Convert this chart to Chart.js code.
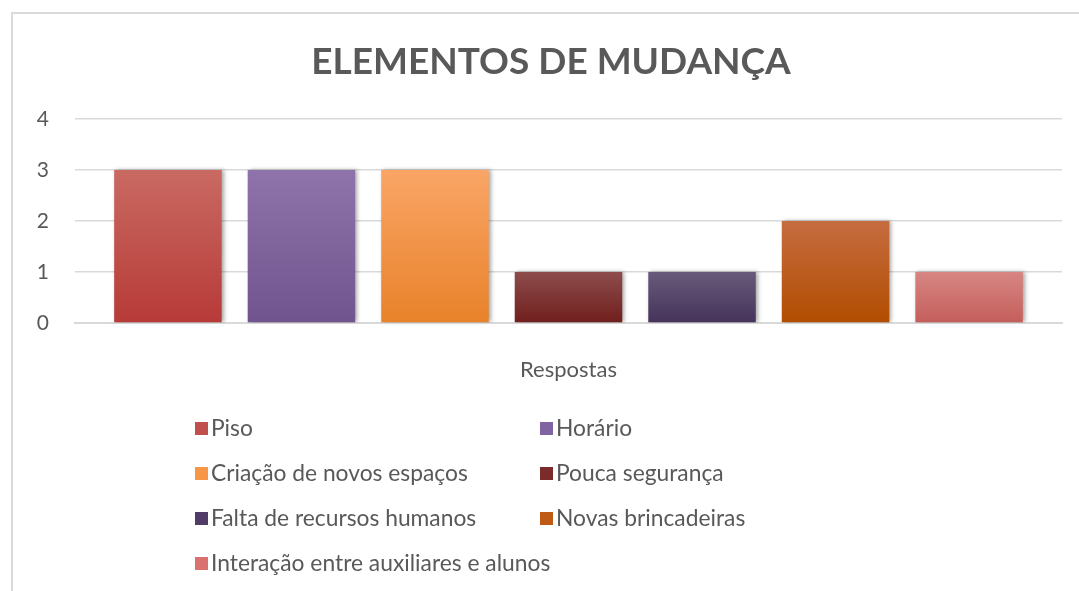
<!DOCTYPE html>
<html>
<head>
<meta charset="utf-8">
<script src="https://cdn.jsdelivr.net/npm/chart.js@4/dist/chart.umd.min.js"></script>
<style>
  html, body { margin: 0; padding: 0; background: #fff; }
  #wrap { position: relative; width: 1079px; height: 591px; overflow: hidden; }
  #frame { position: absolute; left: 11px; top: 12px; width: 1100px; height: 620px;
           border-top: 2px solid #d9d9d9; border-left: 2px solid #d9d9d9; }
  canvas { position: absolute; left: 0; top: 0; }
</style>
</head>
<body>
<div id="wrap">
  <div id="frame"></div>
  <canvas id="chart" width="1079" height="591"></canvas>
</div>
<script>
// data
const title = "ELEMENTOS DE MUDANÇA";
const categories = ["Respostas"];
const seriesNames = [
  "Piso", "Horário", "Criação de novos espaços", "Pouca segurança",
  "Falta de recursos humanos", "Novas brincadeiras", "Interação entre auxiliares e alunos"
];
const seriesValues = [3, 3, 3, 1, 1, 2, 1];
const yTicks = [0, 1, 2, 3, 4];

// top / bottom colour of each bar gradient
const topColors = ["#c96a62", "#8e74aa", "#faa566", "#8c4c4b", "#685a7a", "#c56c40", "#d78683"];
const bottomColors = ["#b73a37", "#70548e", "#e8822a", "#701f1d", "#45335b", "#b24d00", "#c45e5b"];
const legendColors = ["#c0504d", "#8064a2", "#f79646", "#7b2c2a", "#4f3d67", "#bf5a14", "#d9716e"];

const textColor = "#595959";
const fontFamily = "Lato, 'Open Sans', sans-serif";

function barGradient(i) {
  return function(context) {
    const chart = context.chart;
    const y = chart.scales.y;
    if (!y || !chart.chartArea) return legendColors[i];
    const top = y.getPixelForValue(seriesValues[i]);
    const bottom = y.getPixelForValue(0);
    const g = chart.ctx.createLinearGradient(0, top, 0, bottom);
    g.addColorStop(0, topColors[i]);
    g.addColorStop(1, bottomColors[i]);
    return g;
  };
}

const datasets = seriesNames.map((name, i) => ({
  label: name,
  data: [seriesValues[i]],
  backgroundColor: barGradient(i),
  borderWidth: 0,
  barPercentage: 0.805,
  categoryPercentage: 0.947
}));

// soft shadow on the bars
const barShadow = {
  id: "barShadow",
  beforeDatasetsDraw(chart) {
    const ctx = chart.ctx;
    ctx.save();
    ctx.shadowColor = "rgba(0,0,0,0.35)";
    ctx.shadowBlur = 4;
    ctx.shadowOffsetX = 2;
    ctx.shadowOffsetY = 0;
  },
  afterDatasetsDraw(chart) {
    chart.ctx.restore();
  }
};

// title centred on the frame, not on the plot
const frameTitle = {
  id: "frameTitle",
  afterDraw(chart) {
    const ctx = chart.ctx;
    ctx.save();
    ctx.font = "bold 37px " + fontFamily;
    ctx.fillStyle = textColor;
    ctx.textAlign = "center";
    ctx.textBaseline = "middle";
    ctx.fillText(title, 551, 62);
    ctx.restore();
  }
};

// two-column legend under the plot
const gridLegend = {
  id: "gridLegend",
  afterDraw(chart) {
    const ctx = chart.ctx;
    const colX = [195, 540];
    const rowY = 428;
    const rowGap = 45;
    ctx.save();
    ctx.font = "22.8px " + fontFamily;
    ctx.textBaseline = "middle";
    chart.data.datasets.forEach((ds, i) => {
      const x = colX[i % 2];
      const y = rowY + Math.floor(i / 2) * rowGap;
      ctx.fillStyle = legendColors[i];
      ctx.fillRect(x, y - 6, 13, 13);
      ctx.fillStyle = textColor;
      ctx.fillText(ds.label, x + 16, y + 1);
    });
    ctx.restore();
  }
};

new Chart(document.getElementById("chart"), {
  type: "bar",
  data: { labels: categories, datasets: datasets },
  plugins: [barShadow, frameTitle, gridLegend],
  options: {
    responsive: false,
    animation: false,
    layout: { padding: { left: 0, right: 17, top: 119, bottom: 0 } },
    plugins: {
      legend: { display: false },
      tooltip: { enabled: false },
      title: { display: false }
    },
    scales: {
      x: {
        grid: { display: false },
        border: { display: true, color: "#d9d9d9", width: 2 },
        ticks: { color: textColor, font: { family: fontFamily, size: 22 }, padding: 26 },
        afterFit(scale) { scale.height = 268; }
      },
      y: {
        min: 0,
        max: 4,
        afterBuildTicks(scale) { scale.ticks = yTicks.map(v => ({ value: v })); },
        grid: { color: "#d9d9d9", lineWidth: 1.5, drawTicks: false },
        border: { display: false },
        ticks: { color: textColor, font: { family: fontFamily, size: 21 }, padding: 26 },
        afterFit(scale) { scale.width = 75; }
      }
    }
  }
});
</script>
</body>
</html>
